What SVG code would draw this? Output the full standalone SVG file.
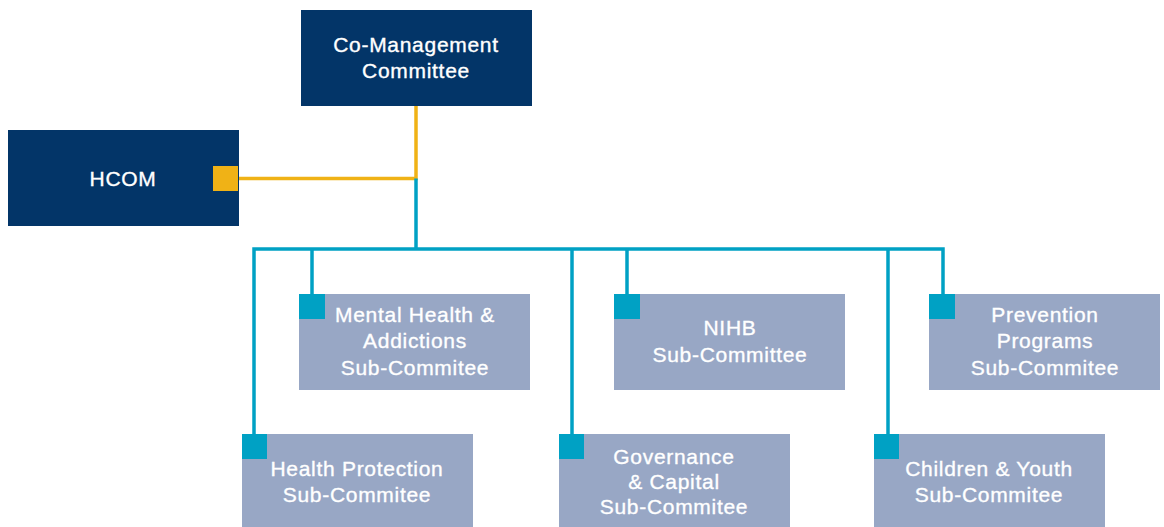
<svg xmlns="http://www.w3.org/2000/svg" width="1164" height="527" viewBox="0 0 1164 527">
<style>
.dark{fill:#033568}
.sub{fill:#98a7c5}
.sq{fill:#00a1c4}
.ysq{fill:#f0b216}
text{fill:#fff;stroke:#fff;stroke-width:0.35;font-family:"Liberation Sans",Arial,sans-serif;font-size:21px;letter-spacing:0.7px;text-anchor:middle}
.y{stroke:#f0b216;stroke-width:3.5;fill:none}
.b{stroke:#00a1c4;stroke-width:3.5;fill:none}
</style>
<rect width="1164" height="527" fill="#fff"/>
<g id="connectors">
<path class="y" d="M416 105 V178.5 H238"/>
<path class="b" d="M416 178.5 V249"/>
<path class="b" d="M254 434 V249 H943 V294"/>
<path class="b" d="M312 249 V294"/>
<path class="b" d="M572 249 V434"/>
<path class="b" d="M627 249 V294"/>
<path class="b" d="M888 249 V434"/>
</g>
<g id="co-management">
<rect class="dark" x="301" y="10" width="231" height="96"/>
<text x="416" y="52">Co-Management</text>
<text x="416" y="78">Committee</text>
</g>
<g id="hcom">
<rect class="dark" x="8" y="130" width="231" height="96"/>
<rect class="ysq" x="213" y="166" width="25" height="25"/>
<text x="123" y="186">HCOM</text>
</g>
<g id="mental-health">
<rect class="sub" x="299" y="294" width="231" height="96"/>
<rect class="sq" x="299" y="294" width="26" height="25"/>
<text x="415" y="322">Mental Health &amp;</text>
<text x="415" y="348">Addictions</text>
<text x="415" y="375">Sub-Commitee</text>
</g>
<g id="nihb">
<rect class="sub" x="614" y="294" width="231" height="96"/>
<rect class="sq" x="614" y="294" width="26" height="25"/>
<text x="730" y="335">NIHB</text>
<text x="730" y="362">Sub-Committee</text>
</g>
<g id="prevention">
<rect class="sub" x="929" y="294" width="231" height="96"/>
<rect class="sq" x="929" y="294" width="26" height="25"/>
<text x="1045" y="322">Prevention</text>
<text x="1045" y="348">Programs</text>
<text x="1045" y="375">Sub-Commitee</text>
</g>
<g id="health-protection">
<rect class="sub" x="242" y="434" width="231" height="96"/>
<rect class="sq" x="242" y="434" width="25" height="25"/>
<text x="357" y="476">Health Protection</text>
<text x="357" y="502">Sub-Commitee</text>
</g>
<g id="governance">
<rect class="sub" x="559" y="434" width="231" height="96"/>
<rect class="sq" x="559" y="434" width="25" height="25"/>
<text x="674" y="464">Governance</text>
<text x="674" y="489">&amp; Capital</text>
<text x="674" y="514">Sub-Commitee</text>
</g>
<g id="children-youth">
<rect class="sub" x="874" y="434" width="231" height="96"/>
<rect class="sq" x="874" y="434" width="25" height="25"/>
<text x="989" y="476">Children &amp; Youth</text>
<text x="989" y="502">Sub-Commitee</text>
</g>
</svg>
